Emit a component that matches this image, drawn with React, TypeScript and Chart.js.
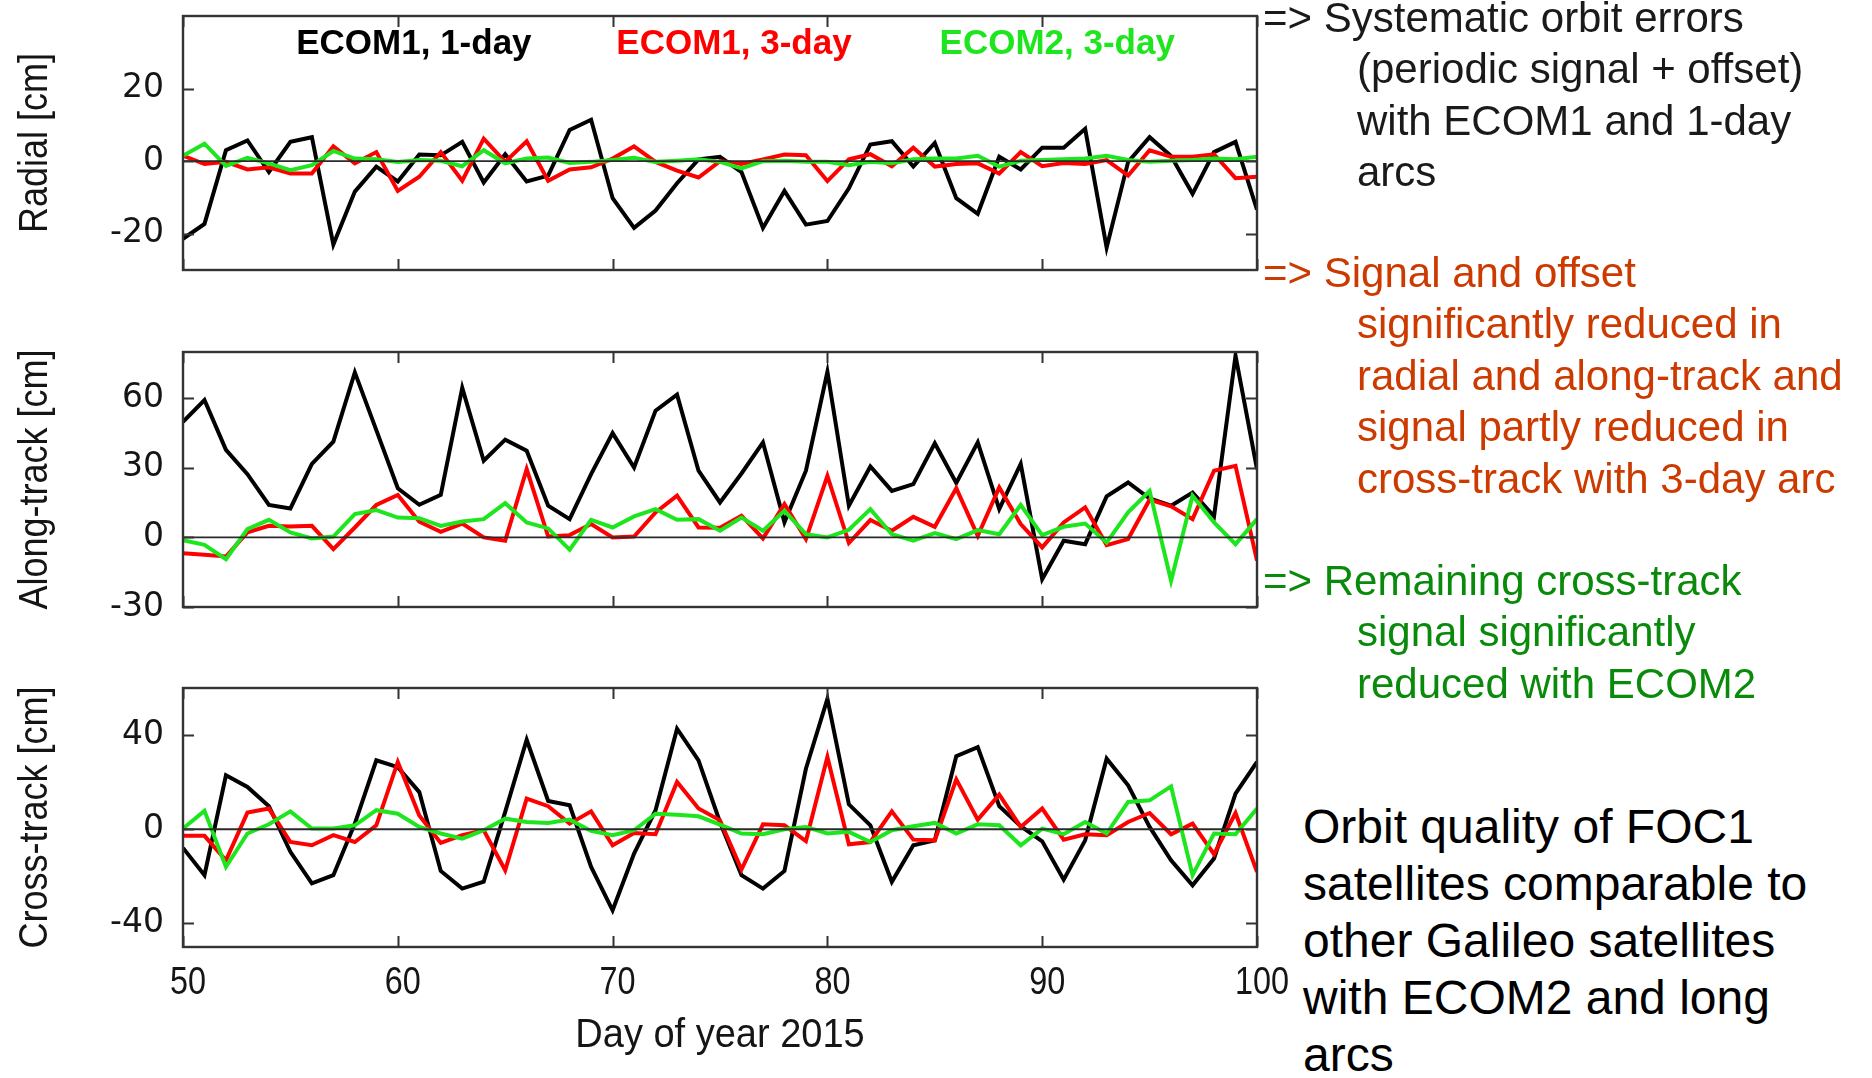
import React, { useEffect, useRef } from "react";
import { Chart, registerables } from "chart.js";

Chart.register(...registerables);

// ---------------- data ----------------
const days = [
  50, 51, 52, 53, 54, 55, 56, 57, 58, 59, 60, 61, 62, 63, 64, 65, 66, 67, 68, 69,
  70, 71, 72, 73, 74, 75, 76, 77, 78, 79, 80, 81, 82, 83, 84, 85, 86, 87, 88, 89,
  90, 91, 92, 93, 94, 95, 96, 97, 98, 99, 100,
];

const seriesLabels = ["ECOM1, 1-day", "ECOM1, 3-day", "ECOM2, 3-day"];
const seriesColors = ["#000000", "#ff0000", "#1ee61e"];

const radialEcom1Day1 = [
  -21.4, -17.3, 3, 5.7, -3, 5.3, 6.6, -23, -8.4, -1.5,
  -5.6, 1.8, 1.6, 5.3, -5.9, 1.9, -5.6, -4, 8.6, 11.4,
  -10.2, -18.4, -13.6, -6.1, 0.5, 1.2, -3, -18.4, -8.2, -17.5,
  -16.5, -7.5, 4.6, 5.5, -1.5, 5, -10.2, -14.5, 1.2, -2.3,
  3.7, 3.7, 8.9, -23.8, -0.2, 6.6, 1.4, -9, 2.5, 5.3,
  -13.4,
];
const radialEcom1Day3 = [
  1.5, -0.8, -0.2, -2.3, -1.7, -3.4, -3.4, 4.1, -0.6, 2.5,
  -8.2, -4.3, 2.5, -5.4, 6.2, -0.2, 5.5, -5.4, -2.3, -1.7,
  0.7, 4.1, -0.2, -2.6, -4.5, 0, -0.8, 0.5, 1.8, 1.6,
  -5.5, 0.5, 1.9, -1.4, 3.7, -1.5, -0.8, -0.6, -3.4, 2.5,
  -1.4, -0.5, -0.8, 0.3, -4, 3, 1.2, 1.2, 1.9, -4.7,
  -4.3,
];
const radialEcom2Day3 = [
  1.5, 4.8, -1.3, 0.9, -0.6, -2.5, -1.1, 2.8, 0.7, 0.5,
  -0.2, 0.3, 0.1, -1.4, 3, -0.6, 0.7, 1, -0.5, -0.2,
  0.3, 0.9, -0.2, 0.1, 0.5, -0.2, -2, 0, 0.1, -0.2,
  -0.2, -1.1, -0.2, -0.6, 0.5, 0.7, 0.7, 1.5, -1.5, 0.1,
  0.3, 0.5, 0.7, 1.5, 0.3, -0.2, 0.1, 0.3, 0.7, 0.5,
  1.2,
];

const alongEcom1Day1 = [
  49.9, 59.3, 37.8, 27.3, 14, 12.5, 31.7, 41.3, 71.2, 46.3,
  21.2, 14.1, 18.4, 64.5, 33.1, 42.2, 37.4, 13.7, 7.9, 27.3,
  45, 30.2, 54.7, 61.6, 28.8, 15.1, 27.6, 41, 6.5, 28.8,
  71.5, 13.7, 30.6, 20.1, 23, 40.6, 23.5, 41, 12.2, 31.7,
  -18, -1.4, -2.9, 17.7, 23.7, 16.8, 13.7, 19.4, 9.1, 78.4,
  29.5,
];
const alongEcom1Day3 = [
  -6.8, -7.5, -8.2, 2.2, 5, 4.7, 5, -5, 4.3, 14,
  18.3, 6.8, 2.4, 6, 0, -1.4, 29.5, 0.4, 1, 5.8,
  0, 0.4, 10.8, 18, 4.3, 4.2, 9.4, -0.4, 14.4, -0.7,
  26.6, -2.4, 7.5, 2.9, 8.9, 4.6, 21.2, 0.7, 21.6, 5.8,
  -4.3, 6.5, 13, -3.3, -0.7, 16.3, 13.4, 7.9, 28.8, 30.9,
  -10,
];
const alongEcom2Day3 = [
  -1.2, -3.2, -9.4, 3.6, 7.6, 2.2, -0.4, 0.4, 10.1, 11.8,
  8.6, 8.3, 5, 6.9, 7.9, 14.8, 6.5, 3.9, -5.3, 7.6,
  4.3, 9.1, 12.2, 7.6, 7.9, 2.9, 8.6, 2.9, 11.5, 1.4,
  0, 3.3, 12.2, 1.4, -1.4, 1.9, -0.7, 3.2, 1.4, 14,
  1, 4.6, 6, -2.2, 10.8, 20.1, -18.7, 18, 6.5, -2.9,
  7.9,
];

const crossEcom1Day1 = [
  -7.9, -19.5, 22.9, 18, 9.8, -9.6, -23, -19.5, 2.4, 29.3,
  26.4, 15.8, -17.7, -25.2, -22.3, 7.4, 38, 12, 10.2, -16,
  -34.4, -10.3, 8.1, 42.7, 29.3, 3, -19.5, -25.2, -17.7, 25.7,
  55.4, 10.6, 1.7, -22.3, -6.8, -4.7, 31, 34.9, 9.8, 1.3,
  -5.1, -21.4, -4.7, 30, 18.7, 1, -13.2, -23.8, -12.4, 15.1,
  28.6,
];
const crossEcom1Day3 = [
  -2.8, -2.8, -13.2, 7.1, 8.8, -5.4, -6.8, -2.5, -5.4, 1.7,
  28.6, 5.9, -5.8, -2.5, -0.4, -17.4, 13, 9.8, 2.4, 7.6,
  -6.8, -1.6, -2.1, 20.1, 8.8, 3.8, -17.1, 2.1, 1.7, -5,
  30.7, -6.4, -5.4, 7.6, -4.4, -4.7, 21.2, 4.1, 14.7, 1,
  8.8, -4.4, -2.1, -2.5, 3.1, 6.9, -2.1, 2.4, -10.6, 6.9,
  -18.1,
];
const crossEcom2Day3 = [
  0.3, 7.8, -16, -1.8, 2.1, 7.6, 0.3, 0.3, 1.7, 8.1,
  6.6, 1, -1.8, -4, -0.4, 4.5, 3.1, 2.7, 4.1, -0.7,
  -2.5, -0.4, 6.6, 6.2, 5.5, 2, -1.8, -2.1, 0, 1,
  -1.8, -1.1, -5.4, -0.4, 1.3, 2.7, -1.8, 2.1, 1.7, -6.8,
  0.3, -2.1, 3.1, -1.8, 11.6, 12.3, 18.2, -19.5, -1.8, -2.1,
  8.8,
];

const dayTicks = [50, 60, 70, 80, 90, 100];
const radialTicks = [-20, 0, 20];
const alongTicks = [-30, 0, 30, 60];
const crossTicks = [-40, 0, 40];

const radialRange = [-30, 40];
const alongRange = [-30, 80];
const crossRange = [-50, 60];

const xTitle = "Day of year 2015";
const yTitles = ["Radial [cm]", "Along-track [cm]", "Cross-track [cm]"];

const noteBlack = ["=> Systematic orbit errors", "(periodic signal + offset)", "with ECOM1 and 1-day", "arcs"];
const noteRed = [
  "=> Signal and offset",
  "significantly reduced in",
  "radial and along-track and",
  "signal partly reduced in",
  "cross-track with 3-day arc",
];
const noteGreen = ["=> Remaining cross-track", "signal significantly", "reduced with ECOM2"];
const noteSummary = [
  "Orbit quality of FOC1",
  "satellites comparable to",
  "other Galileo satellites",
  "with ECOM2 and long",
  "arcs",
];

// ---------------- styling ----------------
const WIDE = "'DejaVu Sans', Verdana, sans-serif";
const SANS = "'Liberation Sans', Arial, Helvetica, sans-serif";
const CANVAS_W = 1300;
const TEXT_DARK = "#151515";

const framePlugin = {
  id: "gnuFrame",
  afterDatasetsDraw(chart: any) {
    const { ctx, chartArea } = chart;
    const { left, right, top, bottom } = chartArea;
    const x = chart.scales.x;
    const y = chart.scales.y;
    ctx.save();
    const y0 = y.getPixelForValue(0);
    ctx.strokeStyle = "#2a2a2a";
    ctx.lineWidth = 1.8;
    ctx.beginPath();
    ctx.moveTo(left, y0);
    ctx.lineTo(right, y0);
    ctx.stroke();
    const tl = 11;
    ctx.strokeStyle = "#333";
    ctx.lineWidth = 2;
    ctx.beginPath();
    for (const t of x.ticks) {
      const px = Math.round(x.getPixelForValue(t.value)) + 0.5;
      ctx.moveTo(px, bottom);
      ctx.lineTo(px, bottom - tl);
      ctx.moveTo(px, top);
      ctx.lineTo(px, top + tl);
    }
    for (const t of y.ticks) {
      const py = Math.round(y.getPixelForValue(t.value)) + 0.5;
      ctx.moveTo(left, py);
      ctx.lineTo(left + tl, py);
      ctx.moveTo(right, py);
      ctx.lineTo(right - tl, py);
    }
    ctx.stroke();
    ctx.lineWidth = 2.4;
    ctx.strokeStyle = "#333";
    ctx.strokeRect(left, top, right - left, bottom - top);
    ctx.restore();
  },
};

// narrow (horizontally condensed) axis texts, like the original gnuplot figure
const narrowTextPlugin = {
  id: "narrowText",
  afterDraw(chart: any, _args: any, opts: any) {
    const { ctx, chartArea } = chart;
    ctx.save();
    ctx.fillStyle = TEXT_DARK;
    ctx.textAlign = "center";
    ctx.textBaseline = "middle";
    ctx.save();
    ctx.translate(36, (chartArea.top + chartArea.bottom) / 2);
    ctx.rotate(-Math.PI / 2);
    ctx.scale(0.9, 1);
    ctx.font = `40px ${SANS}`;
    ctx.fillText(opts.yTitle, 0, 0);
    ctx.restore();
    if (opts.xAxis) {
      const xs = chart.scales.x;
      for (const t of xs.ticks) {
        const px = xs.getPixelForValue(t.value);
        ctx.save();
        ctx.translate(px + 5, chartArea.bottom + 36);
        ctx.scale(0.83, 1);
        ctx.font = `39px ${SANS}`;
        ctx.fillText(String(t.value), 0, 0);
        ctx.restore();
      }
      ctx.save();
      ctx.translate((chartArea.left + chartArea.right) / 2, chartArea.bottom + 89);
      ctx.scale(0.95, 1);
      ctx.font = `40px ${SANS}`;
      ctx.fillText(opts.xTitle, 0, 0);
      ctx.restore();
    }
    ctx.restore();
  },
};

const legendFractions = [0.215, 0.513, 0.814];
const legendPlugin = {
  id: "seriesLegend",
  afterDraw(chart: any) {
    const { ctx, chartArea } = chart;
    ctx.save();
    ctx.font = `bold 35px ${SANS}`;
    ctx.textAlign = "center";
    ctx.textBaseline = "middle";
    chart.data.datasets.forEach((ds: any, i: number) => {
      ctx.fillStyle = ds.borderColor;
      const cx = chartArea.left + legendFractions[i] * (chartArea.right - chartArea.left);
      ctx.fillText(ds.label, cx, chartArea.top + 28);
    });
    ctx.restore();
  },
};

const zeroPad = (s: any) => {
  s.paddingTop = 0;
  s.paddingBottom = 0;
  s.paddingLeft = 0;
  s.paddingRight = 0;
};

function panelConfig(p: {
  series: number[][];
  range: number[];
  yTicks: number[];
  yTitle: string;
  padTop: number;
  padBottom: number;
  bottomAxis: boolean;
  legend: boolean;
}): any {
  return {
    type: "line",
    data: {
      datasets: p.series.map((arr, i) => ({
        label: seriesLabels[i],
        data: days.map((d, j) => ({ x: d, y: arr[j] })),
        borderColor: seriesColors[i],
        backgroundColor: seriesColors[i],
        borderWidth: 4,
        pointRadius: 0,
        tension: 0,
        fill: false,
        order: 3 - i,
        borderJoinStyle: "miter",
      })),
    },
    options: {
      animation: false,
      responsive: false,
      events: [],
      layout: { padding: { top: p.padTop, bottom: p.padBottom, left: 0, right: CANVAS_W - 1257 } },
      plugins: {
        legend: { display: false },
        tooltip: { enabled: false },
        title: { display: false },
        narrowText: { yTitle: p.yTitle, xTitle, xAxis: p.bottomAxis },
      },
      scales: {
        x: {
          type: "linear",
          min: days[0],
          max: days[days.length - 1],
          grid: { display: false, drawTicks: false },
          border: { display: false },
          afterBuildTicks: (s: any) => {
            s.ticks = dayTicks.map((v) => ({ value: v }));
          },
          afterFit: (s: any) => {
            s.height = p.bottomAxis ? 131 : 0;
            zeroPad(s);
          },
          ticks: { display: false },
          title: { display: false },
        },
        y: {
          type: "linear",
          min: p.range[0],
          max: p.range[1],
          grid: { display: false, drawTicks: false },
          border: { display: false },
          afterBuildTicks: (s: any) => {
            s.ticks = p.yTicks.map((v) => ({ value: v }));
          },
          afterFit: (s: any) => {
            s.width = 183;
            zeroPad(s);
          },
          ticks: {
            padding: 19,
            color: TEXT_DARK,
            font: { family: WIDE, size: 33 },
          },
          title: { display: false },
        },
      },
    },
    plugins: p.legend ? [framePlugin, narrowTextPlugin, legendPlugin] : [framePlugin, narrowTextPlugin],
  };
}

function Note({ lines, top, left, color, size, lh, indent }: any) {
  return (
    <div
      style={{
        position: "absolute",
        left,
        top,
        color,
        fontFamily: SANS,
        fontSize: size,
        lineHeight: `${lh}px`,
        whiteSpace: "nowrap",
        paddingLeft: indent,
        textIndent: -indent,
      }}
    >
      {lines.map((l: string, i: number) => (
        <React.Fragment key={i}>
          {l}
          {i < lines.length - 1 ? <br /> : null}
        </React.Fragment>
      ))}
    </div>
  );
}

export default function App() {
  const r1 = useRef<HTMLCanvasElement>(null);
  const r2 = useRef<HTMLCanvasElement>(null);
  const r3 = useRef<HTMLCanvasElement>(null);

  useEffect(() => {
    const charts = [
      new Chart(
        r1.current!,
        panelConfig({
          series: [radialEcom1Day1, radialEcom1Day3, radialEcom2Day3],
          range: radialRange,
          yTicks: radialTicks,
          yTitle: yTitles[0],
          padTop: 16,
          padBottom: 10,
          bottomAxis: false,
          legend: true,
        })
      ),
      new Chart(
        r2.current!,
        panelConfig({
          series: [alongEcom1Day1, alongEcom1Day3, alongEcom2Day3],
          range: alongRange,
          yTicks: alongTicks,
          yTitle: yTitles[1],
          padTop: 12,
          padBottom: 13,
          bottomAxis: false,
          legend: false,
        })
      ),
      new Chart(
        r3.current!,
        panelConfig({
          series: [crossEcom1Day1, crossEcom1Day3, crossEcom2Day3],
          range: crossRange,
          yTicks: crossTicks,
          yTitle: yTitles[2],
          padTop: 8,
          padBottom: 0,
          bottomAxis: true,
          legend: false,
        })
      ),
    ];
    return () => charts.forEach((c) => c.destroy());
  }, []);

  return (
    <div
      style={{
        position: "absolute",
        left: 0,
        top: 0,
        width: 1872,
        height: 1078,
        background: "#fff",
        overflow: "hidden",
      }}
    >
      <canvas ref={r1} width={CANVAS_W} height={280} style={{ position: "absolute", left: 0, top: 0 }} />
      <canvas ref={r2} width={CANVAS_W} height={280} style={{ position: "absolute", left: 0, top: 340 }} />
      <canvas ref={r3} width={CANVAS_W} height={398} style={{ position: "absolute", left: 0, top: 680 }} />

      <Note lines={noteBlack} top={-8} left={1263} color="#1a1a1a" size={42} lh={51.4} indent={94} />
      <Note lines={noteRed} top={247} left={1263} color="#cc3a00" size={42} lh={51.4} indent={94} />
      <Note lines={noteGreen} top={555} left={1263} color="#0a8a0a" size={42} lh={51.4} indent={94} />
      <Note lines={noteSummary} top={798} left={1303} color="#000" size={48} lh={57} indent={0} />
    </div>
  );
}
